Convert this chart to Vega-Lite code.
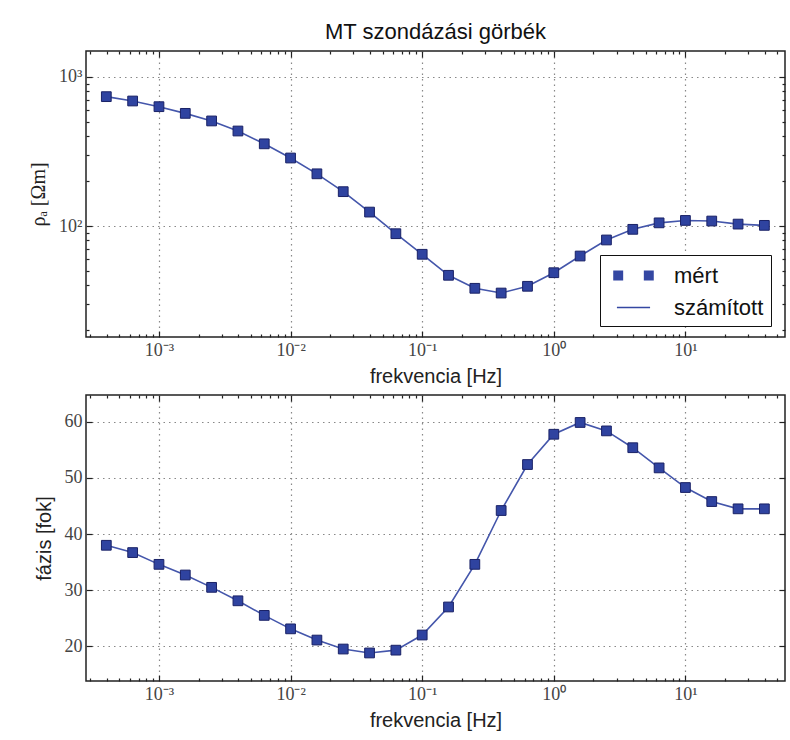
{
  "$schema": "https://vega.github.io/schema/vega-lite/v6.json",
  "padding": {"left": 27, "top": 20, "right": 4, "bottom": 2},
  "background": "white",
  "data": {
    "values": [
      {"f": 0.0003981, "rho": 738, "phase": 38.0},
      {"f": 0.000631, "rho": 690, "phase": 36.7},
      {"f": 0.001, "rho": 632, "phase": 34.6},
      {"f": 0.001585, "rho": 570, "phase": 32.7},
      {"f": 0.002512, "rho": 507, "phase": 30.5},
      {"f": 0.003981, "rho": 434, "phase": 28.1},
      {"f": 0.00631, "rho": 356, "phase": 25.5},
      {"f": 0.01, "rho": 286, "phase": 23.1},
      {"f": 0.01585, "rho": 224, "phase": 21.1},
      {"f": 0.02512, "rho": 170, "phase": 19.5},
      {"f": 0.03981, "rho": 124, "phase": 18.8},
      {"f": 0.0631, "rho": 88.8, "phase": 19.3},
      {"f": 0.1, "rho": 64.6, "phase": 22.0},
      {"f": 0.1585, "rho": 46.7, "phase": 27.0},
      {"f": 0.2512, "rho": 38.2, "phase": 34.6},
      {"f": 0.3981, "rho": 35.5, "phase": 44.2},
      {"f": 0.631, "rho": 39.4, "phase": 52.4},
      {"f": 1.0, "rho": 48.6, "phase": 57.8},
      {"f": 1.585, "rho": 62.9, "phase": 59.9},
      {"f": 2.512, "rho": 80.6, "phase": 58.4},
      {"f": 3.981, "rho": 95, "phase": 55.4},
      {"f": 6.31, "rho": 105, "phase": 51.8},
      {"f": 10.0, "rho": 109, "phase": 48.3},
      {"f": 15.85, "rho": 108, "phase": 45.8},
      {"f": 25.12, "rho": 103, "phase": 44.5},
      {"f": 39.81, "rho": 101, "phase": 44.5}
    ]
  },
  "spacing": 6,
  "vconcat": [
    {
      "width": 699,
      "height": 286,
      "title": {"text": "MT szondázási görbék", "font": "Liberation Sans", "fontSize": 22, "fontWeight": "normal", "color": "#111", "anchor": "middle", "frame": "group", "offset": 6},
      "layer": [
        {
          "mark": {"type": "line", "color": "#4456ab", "strokeWidth": 1.6},
          "encoding": {
            "x": {"field": "f", "type": "quantitative",
              "scale": {"type": "log", "domain": [0.000279, 57.1], "nice": false},
              "axis": {"orient": "bottom", "title": "frekvencia [Hz]", "titleFont": "Liberation Sans", "titleFontSize": 20, "titleFontWeight": "normal", "titleColor": "#222", "titlePadding": 4,
                "values": [0.0003,0.0004,0.0005,0.0006,0.0007,0.0008,0.0009,0.001,0.002,0.003,0.004,0.005,0.006,0.007,0.008,0.009,0.01,0.02,0.03,0.04,0.05,0.06,0.07,0.08,0.09,0.1,0.2,0.3,0.4,0.5,0.6,0.7,0.8,0.9,1,2,3,4,5,6,7,8,9,10,20,30,40,50],
                "labelExpr": "datum.value == 0.001 ? '10⁻³' : datum.value == 0.01 ? '10⁻²' : datum.value == 0.1 ? '10⁻¹' : datum.value == 1 ? '10⁰' : datum.value == 10 ? '10¹' : ''",
                "labelFont": "Liberation Serif", "labelFontSize": 18, "labelColor": "#444", "labelPadding": 10, "labelFlush": false, "labelOverlap": false,
                "grid": true, "gridDash": [1.5, 4], "gridColor": "#888", "gridWidth": 1.2,
                "gridOpacity": {"condition": {"test": "indexof([0.001,0.01,0.1,1,10], datum.value) >= 0", "value": 1}, "value": 0},
                "tickColor": "#222", "tickWidth": 1.2,
                "tickSize": {"condition": {"test": "indexof([0.001,0.01,0.1,1,10], datum.value) >= 0", "value": -6}, "value": -3}
              }},
            "y": {"field": "rho", "type": "quantitative",
              "scale": {"type": "log", "domain": [18, 1494], "nice": false},
              "axis": {"orient": "left", "title": "ρₐ [Ωm]", "titleFont": "Liberation Serif", "titleFontSize": 20, "titleFontWeight": "normal", "titleColor": "#222", "titlePadding": 10,
                "values": [20,30,40,50,60,70,80,90,100,200,300,400,500,600,700,800,900,1000],
                "labelExpr": "datum.value == 100 ? '10²' : datum.value == 1000 ? '10³' : ''",
                "labelFont": "Liberation Serif", "labelFontSize": 18, "labelColor": "#444", "labelPadding": 10, "labelFlush": false, "labelOverlap": false,
                "grid": true, "gridDash": [1.5, 4], "gridColor": "#888", "gridWidth": 1.2,
                "gridOpacity": {"condition": {"test": "datum.value == 100 || datum.value == 1000", "value": 1}, "value": 0},
                "tickColor": "#222", "tickWidth": 1.2,
                "tickSize": {"condition": {"test": "datum.value == 100 || datum.value == 1000", "value": -6}, "value": -3}
              }}
          }
        },
        {
          "mark": {"type": "point", "shape": "square", "filled": true, "fill": "#2f43a0", "stroke": "#1a2266", "strokeWidth": 1, "size": 95, "opacity": 1},
          "encoding": {
            "x": {"field": "f", "type": "quantitative",
              "scale": {"type": "log", "domain": [0.000279, 57.1], "nice": false},
              "axis": {"orient": "top", "title": null, "labels": false, "grid": false,
                "values": [0.0003,0.0004,0.0005,0.0006,0.0007,0.0008,0.0009,0.001,0.002,0.003,0.004,0.005,0.006,0.007,0.008,0.009,0.01,0.02,0.03,0.04,0.05,0.06,0.07,0.08,0.09,0.1,0.2,0.3,0.4,0.5,0.6,0.7,0.8,0.9,1,2,3,4,5,6,7,8,9,10,20,30,40,50],
                "tickColor": "#222", "tickWidth": 1.2,
                "tickSize": {"condition": {"test": "indexof([0.001,0.01,0.1,1,10], datum.value) >= 0", "value": -6}, "value": -3}
              }},
            "y": {"field": "rho", "type": "quantitative",
              "scale": {"type": "log", "domain": [18, 1494], "nice": false},
              "axis": {"orient": "right", "title": null, "labels": false, "grid": false,
                "values": [20,30,40,50,60,70,80,90,100,200,300,400,500,600,700,800,900,1000],
                "tickColor": "#222", "tickWidth": 1.2,
                "tickSize": {"condition": {"test": "datum.value == 100 || datum.value == 1000", "value": -6}, "value": -3}
              }}
          }
        },
        {
          "transform": [{"filter": "datum.f < 0"}],
          "mark": {"type": "point", "filled": true, "fill": "#3447a2", "stroke": "#3447a2", "strokeWidth": 0.5, "opacity": 1},
          "encoding": {
            "shape": {"datum": "mért", "type": "nominal",
              "scale": {"domain": ["mért", "számított"], "range": ["M-1.59,-0.39H-0.81V0.39H-1.59Z M0.81,-0.39H1.59V0.39H0.81Z", "M-1.3,-0.055H1.3V0.055H-1.3Z"]},
              "legend": {"title": null, "orient": "none", "legendX": 514, "legendY": 204,
                "padding": 7, "rowPadding": 7, "symbolSize": 650, "symbolOffset": 13, "labelOffset": 27,
                "symbolFillColor": "#3447a2", "symbolStrokeColor": "#3447a2", "symbolOpacity": 1,
                "labelFont": "Liberation Sans", "labelFontSize": 22, "labelColor": "#111",
                "strokeColor": "#111", "fillColor": "white", "cornerRadius": 0
              }}
          }
        }
      ],
      "resolve": {"axis": {"x": "independent", "y": "independent"}}
    },
    {
      "width": 699,
      "height": 286,
      "layer": [
        {
          "mark": {"type": "line", "color": "#4456ab", "strokeWidth": 1.6},
          "encoding": {
            "x": {"field": "f", "type": "quantitative",
              "scale": {"type": "log", "domain": [0.000279, 57.1], "nice": false},
              "axis": {"orient": "bottom", "title": "frekvencia [Hz]", "titleFont": "Liberation Sans", "titleFontSize": 20, "titleFontWeight": "normal", "titleColor": "#222", "titlePadding": 4,
                "values": [0.0003,0.0004,0.0005,0.0006,0.0007,0.0008,0.0009,0.001,0.002,0.003,0.004,0.005,0.006,0.007,0.008,0.009,0.01,0.02,0.03,0.04,0.05,0.06,0.07,0.08,0.09,0.1,0.2,0.3,0.4,0.5,0.6,0.7,0.8,0.9,1,2,3,4,5,6,7,8,9,10,20,30,40,50],
                "labelExpr": "datum.value == 0.001 ? '10⁻³' : datum.value == 0.01 ? '10⁻²' : datum.value == 0.1 ? '10⁻¹' : datum.value == 1 ? '10⁰' : datum.value == 10 ? '10¹' : ''",
                "labelFont": "Liberation Serif", "labelFontSize": 18, "labelColor": "#444", "labelPadding": 10, "labelFlush": false, "labelOverlap": false,
                "grid": true, "gridDash": [1.5, 4], "gridColor": "#888", "gridWidth": 1.2,
                "gridOpacity": {"condition": {"test": "indexof([0.001,0.01,0.1,1,10], datum.value) >= 0", "value": 1}, "value": 0},
                "tickColor": "#222", "tickWidth": 1.2,
                "tickSize": {"condition": {"test": "indexof([0.001,0.01,0.1,1,10], datum.value) >= 0", "value": -6}, "value": -3}
              }},
            "y": {"field": "phase", "type": "quantitative",
              "scale": {"domain": [13.8, 64.8], "nice": false, "zero": false},
              "axis": {"orient": "left", "title": "fázis [fok]", "titleFont": "Liberation Sans", "titleFontSize": 20, "titleFontWeight": "normal", "titleColor": "#222", "titlePadding": 10,
                "values": [20, 30, 40, 50, 60],
                "labelFont": "Liberation Serif", "labelFontSize": 18, "labelColor": "#444", "labelPadding": 10, "labelFlush": false,
                "grid": true, "gridDash": [1.5, 4], "gridColor": "#888", "gridWidth": 1.2,
                "tickColor": "#222", "tickWidth": 1.2, "tickSize": -6
              }}
          }
        },
        {
          "mark": {"type": "point", "shape": "square", "filled": true, "fill": "#2f43a0", "stroke": "#1a2266", "strokeWidth": 1, "size": 95, "opacity": 1},
          "encoding": {
            "x": {"field": "f", "type": "quantitative",
              "scale": {"type": "log", "domain": [0.000279, 57.1], "nice": false},
              "axis": {"orient": "top", "title": null, "labels": false, "grid": false,
                "values": [0.0003,0.0004,0.0005,0.0006,0.0007,0.0008,0.0009,0.001,0.002,0.003,0.004,0.005,0.006,0.007,0.008,0.009,0.01,0.02,0.03,0.04,0.05,0.06,0.07,0.08,0.09,0.1,0.2,0.3,0.4,0.5,0.6,0.7,0.8,0.9,1,2,3,4,5,6,7,8,9,10,20,30,40,50],
                "tickColor": "#222", "tickWidth": 1.2,
                "tickSize": {"condition": {"test": "indexof([0.001,0.01,0.1,1,10], datum.value) >= 0", "value": -6}, "value": -3}
              }},
            "y": {"field": "phase", "type": "quantitative",
              "scale": {"domain": [13.8, 64.8], "nice": false, "zero": false},
              "axis": {"orient": "right", "title": null, "labels": false, "grid": false,
                "values": [20, 30, 40, 50, 60],
                "tickColor": "#222", "tickWidth": 1.2, "tickSize": -6
              }}
          }
        }
      ],
      "resolve": {"axis": {"x": "independent", "y": "independent"}}
    }
  ],
  "config": {
    "view": {"stroke": "#222", "strokeWidth": 1.5},
    "axis": {"domain": false}
  }
}
